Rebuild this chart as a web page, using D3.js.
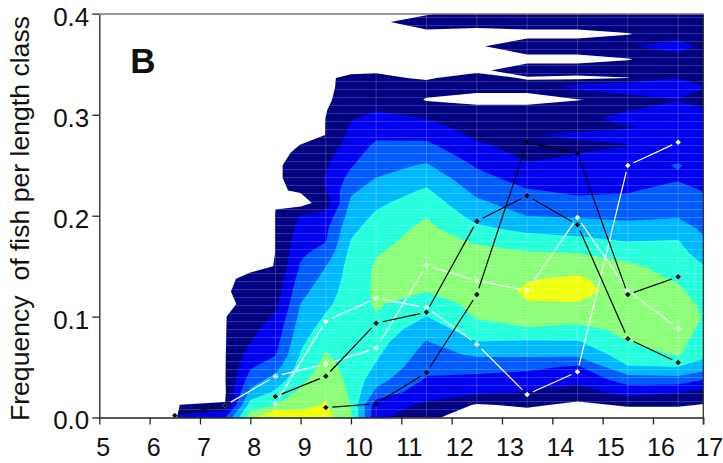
<!DOCTYPE html>
<html>
<head>
<meta charset="utf-8">
<script src="https://cdn.jsdelivr.net/npm/d3@7"></script>
<style>
  html, body { margin: 0; padding: 0; background: #fff; }
  svg { display: block; }
  text { font-family: "Liberation Sans", Arial, sans-serif; fill: #111; }
</style>
</head>
<body>
<svg id="chart" width="723" height="463"></svg>
<script>
const WIDTH = 723;
const HEIGHT = 463;

const xTicks = [5, 6, 7, 8, 9, 10, 11, 12, 13, 14, 15, 16, 17];
const yTicks = [0, 0.1, 0.2, 0.3, 0.4];

// Grid nodes of the density surface (rows are tighter where the top bands are thin)
const lengthNodes = [6.5, 6.6, 7.5, 8, 8.5, 9, 9.5, 10, 10.5, 11.5, 12.5, 13.5, 14.5, 15.5, 16.5, 17];
const freqNodes = [0, 0.0125, 0.025, 0.0375, 0.05, 0.0625, 0.075, 0.0875, 0.1, 0.1125, 0.125, 0.1375,
  0.15, 0.1625, 0.175, 0.1875, 0.2, 0.2125, 0.225, 0.2375, 0.25, 0.2625, 0.27, 0.28,
  0.2875, 0.296, 0.305, 0.315, 0.328, 0.3365, 0.344, 0.355, 0.368, 0.38, 0.392, 0.4];

// One row per length node, one value per frequency node
const density = [
  [0,0,0,0,0,0,0,0,0,0,0,0,0,0,0,0,0,0,0,0,0,0,0,0,0,0,0,0,0,0,0,0,0,0,0,0],
  [2.3,1.02,0,0,0,0,0,0,0,0,0,0,0,0,0,0,0,0,0,0,0,0,0,0,0,0,0,0,0,0,0,0,0,0,0,0],
  [3,1.03,.9,.96,.96,.96,.96,.96,.96,.6,.88,.85,0,0,0,0,0,0,0,0,0,0,0,0,0,0,0,0,0,0,0,0,0,0,0,0],
  [6.6,5.48,4.25,3.48,2.88,2.42,1.97,1.8,1.6,1.5,1.4,1.2,.8,0,0,0,0,0,0,0,0,0,0,0,0,0,0,0,0,0,0,0,0,0,0,0],
  [8.5,6,5.17,4.39,3.61,2.93,2.65,2.37,2.08,1.7,1.5,1.3,1.02,1.02,1.02,1.02,1.02,.98,.9,.92,.92,.85,0,0,0,0,0,0,0,0,0,0,0,0,0,0],
  [7.35,6.77,6.2,5.77,5.43,5.08,4.8,4.54,4.28,4.02,3.72,3.42,3.11,2.84,2.58,2.32,2.06,.6,1.1,1.2,1.2,1.1,1.05,0,0,0,0,0,0,0,0,0,0,0,0,0],
  [7.34,7.08,6.83,6.57,6.31,6.06,5.75,5.42,5.09,4.81,4.54,4.27,3.99,3.4,2.95,2.78,2.3,1.5,1.95,2.05,1.9,1.6,1.3,1.03,1.03,1.02,.95,.8,.7,.8,0,0,0,0,0,0],
  [6.2,5.95,5.85,5.75,5.7,5.65,5.6,5.55,5.5,5.5,5.5,5.45,5.4,5.3,5.05,4.77,4.48,4.2,3.83,3.32,2.91,2.65,2.49,2.28,2.12,1.95,1.75,1.6,1.5,1.3,.7,0,0,0,0,0],
  [2.2,2.4,3.75,4.4,4.9,5.15,5.4,5.65,5.95,6.1,6.15,6.15,6.1,5.95,5.7,5.42,5.15,4.81,4.41,4.01,3.68,3.34,3.14,2.83,2.56,2.26,1.96,1.7,1.37,1.16,.9,.2,.3,.4,.8,.3],
  [1.4,1.85,2.36,2.89,3.27,3.61,3.95,4.45,4.99,5.5,6,6.2,6.35,6.4,6.4,6.25,5.95,5.54,5.13,4.63,4.09,3.54,3.2,2.74,2.38,1.99,1.3,.95,1.3,.9,0,0,0,.7,1.5,.9],
  [0,.9,2.15,2.7,3.37,4.16,4.98,5.57,6.1,6.25,6.4,6.45,6.4,6.3,5.88,5.19,4.66,4.19,3.74,3.32,2.89,2.42,2.13,1.8,1.6,1.5,1.4,.6,1.4,1.4,.8,.3,.9,.5,1.5,1.5],
  [.5,1.15,1.95,2.54,3.23,4.2,4.89,5.9,6.45,6.94,7.15,6.94,6.53,6.12,5.47,4.72,3.99,3.54,3.07,2.58,2.08,1.75,1.7,1.9,1.6,1.5,1.4,.6,1.4,.9,1.5,.7,1.5,.7,1.5,1.5],
  [0,.8,1.55,2.25,2.85,4.25,4.93,5.75,6.39,6.94,7.4,7.15,6.6,6.02,5.27,4.55,3.88,3.25,2.83,2.54,2.26,1.97,1.6,2.28,1.5,1.5,1.5,.95,2.3,.75,1.5,.7,1.5,.7,1.5,1.5],
  [.4,1.1,2.38,3.47,4.94,5.48,5.98,6.2,6.35,6.45,6.5,6.45,6.2,5.6,4.97,4.34,3.78,3.31,2.9,2.75,2.55,2.3,1.95,2.5,1.9,2.55,1.95,1.4,2.9,.97,1.5,.95,1.9,.95,1.5,1.5],
  [.4,1.1,2.04,3.58,5,6.1,6.3,6.45,6.5,6.45,6.2,5.87,5.6,5.33,5.05,4.45,3.9,3.65,3.4,2.85,3.08,2.6,2.5,2.5,2.5,2.4,2.3,1.95,2.9,1.95,1.5,1.5,2.5,1.5,1.5,1.5],
  [.3,.95,1.7,3,4.54,5.25,5.5,5.8,5.95,5.8,5.55,5.3,5.05,4.6,4.15,3.82,3.52,3.23,2.95,2.75,2.6,2.4,2.4,2.3,2.3,2.2,2.1,1.6,2.05,1.5,1.5,1.5,1.7,1.5,1.5,1.5]
];

const bandLevels = [1, 2, 3, 4, 5, 6, 7];
const bandColors = ["#000080", "#0000f0", "#005cff", "#00b8ff", "#25ffdb", "#8cff78", "#f0ff10"];

// Observed frequency per length class, [length, frequency]
const blackEarly = [[6.5, 0.002], [7.5, 0.012]];
const blackUpper = [[8.5, 0.0208], [9.5, 0.0409], [10.5, 0.0935], [11.5, 0.1044], [12.5, 0.1946], [13.5, 0.2197], [14.5, 0.191], [15.5, 0.078], [16.5, 0.0545]];
const blackLower = [[9.5, 0.0099], [10.5, 0.0136], [11.5, 0.0446], [12.5, 0.1219], [13.5, 0.2729], [14.5, 0.2616], [15.5, 0.1219], [16.5, 0.1394]];
const whiteFirst = [[7.5, 0.012], [8.5, 0.041], [9.5, 0.0529], [10.5, 0.0688], [11.5, 0.1506], [12.5, 0.1355], [13.5, 0.1259], [14.5, 0.1982], [15.5, 0.1259], [16.5, 0.0882]];
const whiteSecond = [[8.5, 0.0139], [9.5, 0.0955], [10.5, 0.1183], [11.5, 0.109], [12.5, 0.0727], [13.5, 0.0228], [14.5, 0.0453], [15.5, 0.2497], [16.5, 0.2729]];

const x = d3.scaleLinear().domain([5, 17]).range([99.3, 703.3]);
const y = d3.scaleLinear().domain([0, 0.4]).range([417.5, 13.9]);

const svg = d3.select("#chart").attr("viewBox", [0, 0, WIDTH, HEIGHT]);
const defs = svg.append("defs");

// d3.contours puts node i at i + 0.5; these map that back to data units
const colToLength = d3.scaleLinear().domain(lengthNodes.map((_, i) => i + 0.5)).range(lengthNodes);
const rowToFreq = d3.scaleLinear().domain(freqNodes.map((_, i) => i + 0.5)).range(freqNodes);
const gridPath = d3.geoPath(d3.geoTransform({
  point(c, r) { this.stream.point(x(colToLength(c)), y(rowToFreq(r))); }
}));

const nCols = lengthNodes.length;
const nRows = freqNodes.length;
const flat = [];
for (let r = 0; r < nRows; r++) {
  for (let c = 0; c < nCols; c++) flat.push(density[c][r]);
}
const bands = d3.contours().size([nCols, nRows]).thresholds(bandLevels)(flat);

defs.append("clipPath").attr("id", "plot").append("rect")
  .attr("x", x(5)).attr("y", y(0.4)).attr("width", x(17) - x(5)).attr("height", y(0) - y(0.4));
defs.append("clipPath").attr("id", "outer").append("path").attr("d", gridPath(bands[0]));

const plot = svg.append("g").attr("clip-path", "url(#plot)");
plot.selectAll("path.band")
  .data(bands)
  .join("path")
  .attr("class", "band")
  .attr("d", gridPath)
  .attr("fill", (d, i) => bandColors[i]);

// Faint mesh left in the filled area by the contouring package
const mesh = plot.append("g").attr("clip-path", "url(#outer)")
  .attr("stroke", "#fff").attr("stroke-opacity", 0.2).attr("stroke-width", 1);
mesh.selectAll("line.h")
  .data(d3.range(0.0079, 0.4, 0.00793))
  .join("line").attr("class", "h")
  .attr("x1", x(5)).attr("x2", x(17))
  .attr("y1", d => y(d)).attr("y2", d => y(d));
mesh.selectAll("line.v")
  .data(d3.range(8.5, 17, 1))
  .join("line").attr("class", "v")
  .attr("x1", d => x(d)).attr("x2", d => x(d))
  .attr("y1", y(0.4)).attr("y2", y(0));

// Line segments stop short of the markers
function segments(series, gap) {
  const out = [];
  for (let i = 1; i < series.length; i++) {
    const x0 = x(series[i - 1][0]), y0 = y(series[i - 1][1]);
    const x1 = x(series[i][0]), y1 = y(series[i][1]);
    const len = Math.hypot(x1 - x0, y1 - y0);
    const ux = (x1 - x0) / len, uy = (y1 - y0) / len;
    out.push([x0 + ux * gap, y0 + uy * gap, x1 - ux * gap, y1 - uy * gap]);
  }
  return out;
}

function drawSeries(series, color, lineWidth) {
  const g = svg.append("g");
  g.selectAll("line")
    .data(segments(series, 6.5))
    .join("line")
    .attr("x1", d => d[0]).attr("y1", d => d[1])
    .attr("x2", d => d[2]).attr("y2", d => d[3])
    .attr("stroke", color).attr("stroke-width", lineWidth);
  g.selectAll("path")
    .data(series)
    .join("path")
    .attr("d", d3.symbol(d3.symbolSquare, 15))
    .attr("transform", d => `translate(${x(d[0])},${y(d[1])}) rotate(45)`)
    .attr("fill", color);
}

drawSeries(whiteFirst, "#fff", 1.2);
drawSeries(whiteSecond, "#fff", 1.2);
drawSeries(blackEarly, "#111", 1.2);
drawSeries(blackUpper, "#000", 1.2);
drawSeries(blackLower, "#000", 1.2);

// Axes
svg.append("g")
  .attr("transform", `translate(0,${y(0)})`)
  .call(d3.axisBottom(x).tickValues(xTicks).tickFormat(d3.format("d")).tickSize(7).tickPadding(13.7).tickSizeOuter(0))
  .call(g => g.selectAll("text").attr("font-size", 25).attr("fill", "#111")
    .attr("dx", d => (d === 17 ? 5.5 : d >= 10 ? 7.5 : 3.5)))
  .call(g => g.selectAll("line,path").attr("stroke", "#222").attr("stroke-width", 1.3));

svg.append("g")
  .attr("transform", `translate(${x(5)},0)`)
  .call(d3.axisLeft(y).tickValues(yTicks).tickFormat(d3.format(".1f")).tickSize(7).tickPadding(3).tickSizeOuter(0))
  .call(g => g.selectAll("text").attr("font-size", 26).attr("fill", "#111").attr("dy", "0.44em"))
  .call(g => g.selectAll("line,path").attr("stroke", "#222").attr("stroke-width", 1.3));

// Top and right frame
svg.append("line").attr("x1", x(5) - 7).attr("x2", x(17)).attr("y1", y(0.4)).attr("y2", y(0.4))
  .attr("stroke", "#777").attr("stroke-width", 1.5);
svg.append("line").attr("x1", x(17)).attr("x2", x(17)).attr("y1", y(0.4)).attr("y2", y(0) + 7)
  .attr("stroke", "#333").attr("stroke-width", 1.3);

svg.append("text")
  .attr("transform", "translate(29,218.5) rotate(-90)")
  .attr("text-anchor", "middle")
  .attr("font-size", 26.6)
  .attr("xml:space", "preserve")
  .text("Frequency  of fish per length class");

svg.append("text")
  .attr("x", 143).attr("y", 73)
  .attr("text-anchor", "middle")
  .attr("font-size", 35).attr("font-weight", "bold")
  .text("B");
</script>
</body>
</html>
